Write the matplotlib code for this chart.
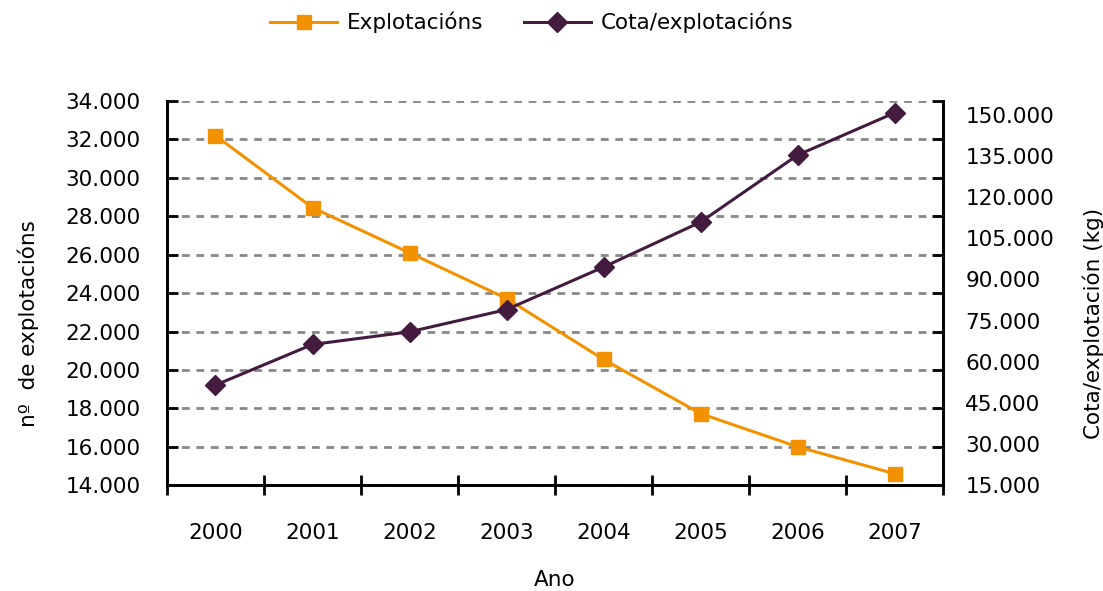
import matplotlib
matplotlib.use('Agg')
import matplotlib.pyplot as plt
from matplotlib.ticker import FuncFormatter, FixedLocator
from matplotlib.lines import Line2D

# Data
anos = ['2000', '2001', '2002', '2003', '2004', '2005', '2006', '2007']
explotacions = [32200, 28450, 26100, 23720, 20550, 17730, 16000, 14600]
cota_explotacion = [51500, 66300, 70900, 79000, 94500, 110900, 135300, 150700]

orange = '#F39200'
purple = '#421B3F'

plt.rcParams['font.family'] = ['DejaVu Sans']
fs = 15.5


def miles(v, pos=None):
    return f'{int(round(v)):,}'.replace(',', '.')


fig = plt.figure(figsize=(11.03, 5.91), dpi=100)
ax = fig.add_axes([0.1514, 0.179, 0.7036, 0.650])
ax2 = ax.twinx()

x = list(range(len(anos)))

ax.plot(x, explotacions, color=orange, linewidth=2.2, marker='s', markersize=10.5,
        markerfacecolor=orange, markeredgecolor=orange, zorder=3)
ax2.plot(x, cota_explotacion, color=purple, linewidth=2.2, marker='D', markersize=10,
         markerfacecolor=purple, markeredgecolor=purple, zorder=3)

# Left axis
ax.set_ylim(14000, 34000)
ax.set_yticks(range(14000, 34001, 2000))
ax.yaxis.set_major_formatter(FuncFormatter(miles))
ax.grid(axis='y', color='#888888', linestyle=(0, (2.8, 2.4)), linewidth=2.0)
ax.tick_params(axis='y', direction='in', length=8, width=2, right=True,
               labelsize=fs, pad=19)

# Right axis
ax2.set_ylim(15000, 155000)
ax2.set_yticks(range(15000, 150001, 15000))
ax2.yaxis.set_major_formatter(FuncFormatter(miles))
ax2.tick_params(axis='y', length=0, labelsize=fs, pad=16)

# X axis: ticks at category boundaries, labels at centers
ax.set_xlim(-0.5, len(anos) - 0.5)
ax.xaxis.set_major_locator(FixedLocator([i - 0.5 for i in range(len(anos) + 1)]))
ax.set_xticklabels([])
ax.set_xticks(x, anos, minor=True)
ax.tick_params(axis='x', which='major', direction='inout', length=14, width=2)
ax.tick_params(axis='x', which='minor', length=0, labelsize=fs, pad=27)

for a in (ax, ax2):
    a.spines['top'].set_visible(False)
    for s in ('left', 'right', 'bottom'):
        a.spines[s].set_linewidth(2)
        a.spines[s].set_color('black')

ax.set_xlabel('Ano', fontsize=fs, labelpad=20)
ax.set_ylabel('nº  de explotacións', fontsize=fs, va='center')
ax.yaxis.set_label_coords(-0.179, 0.42)
ax2.set_ylabel('Cota/explotación (kg)', fontsize=fs, va='center')
ax2.yaxis.set_label_coords(1.193, 0.42)

handles = [
    Line2D([], [], color=orange, linewidth=2.2, marker='s', markersize=10.5),
    Line2D([], [], color=purple, linewidth=2.2, marker='D', markersize=10),
]
fig.legend(handles, ['Explotacións', 'Cota/explotacións'], loc='upper center',
           bbox_to_anchor=(0.482, 1.013), ncol=2, frameon=False, fontsize=fs,
           handlelength=3.1, handletextpad=0.45, columnspacing=1.9)

fig.savefig('out.png', dpi=100)
